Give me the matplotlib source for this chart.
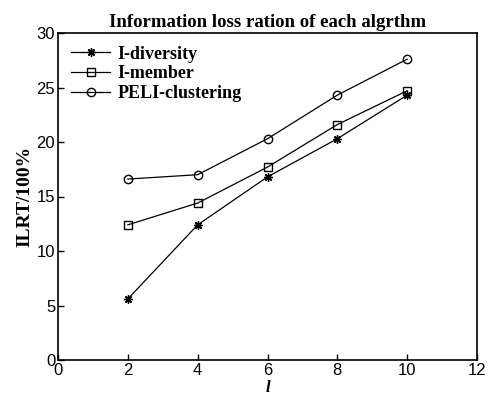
import matplotlib
matplotlib.use('Agg')
import matplotlib.pyplot as plt

# data
l_values = [2, 4, 6, 8, 10]
l_diversity = [5.6, 12.4, 16.8, 20.3, 24.3]
l_member = [12.4, 14.4, 17.7, 21.6, 24.7]
peli_clustering = [16.6, 17.0, 20.3, 24.3, 27.6]

serif = 'Liberation Serif'
sans = 'Liberation Sans'

fig = plt.figure(figsize=(4.97, 3.95), dpi=100)
ax = fig.add_axes([58 / 497, 35 / 395, 419 / 497, 327 / 395])

ax.plot(l_values, l_diversity, color='black', lw=0.9, marker=(8, 2, 0), ms=6, mew=1.0,
        label='I-diversity')
ax.plot(l_values, l_member, color='black', lw=0.9, marker='s', ms=6, mfc='none', mew=1.0,
        label='I-member')
ax.plot(l_values, peli_clustering, color='black', lw=0.9, marker='o', ms=6, mfc='none', mew=1.0,
        label='PELI-clustering')

ax.set_xlim(0, 12)
ax.set_ylim(0, 30)
ax.set_xticks(range(0, 13, 2))
ax.set_yticks(range(0, 31, 5))
ax.tick_params(direction='in', length=4, width=1, labelsize=12)
ax.tick_params(axis='x', pad=2)
ax.tick_params(axis='y', pad=2)
for lab in ax.get_xticklabels() + ax.get_yticklabels():
    lab.set_fontfamily(sans)
for s in ax.spines.values():
    s.set_linewidth(1.2)

ax.set_title('Information loss ration of each algrthm', fontfamily=serif,
             fontweight='bold', fontsize=13.5, pad=4)
ax.set_ylabel('ILRT/100%', fontfamily=serif, fontweight='bold', fontsize=14, labelpad=2)
ax.set_xlabel('l', fontfamily=serif, fontweight='bold', fontstyle='italic', fontsize=12)
ax.xaxis.set_label_coords(0.5, -0.06)

ax.legend(loc='upper left', frameon=False, prop={'family': serif, 'weight': 'bold', 'size': 13},
          handlelength=2.2, labelspacing=0.15, borderaxespad=0.3, handletextpad=0.4)

fig.savefig('out.png', dpi=100)
